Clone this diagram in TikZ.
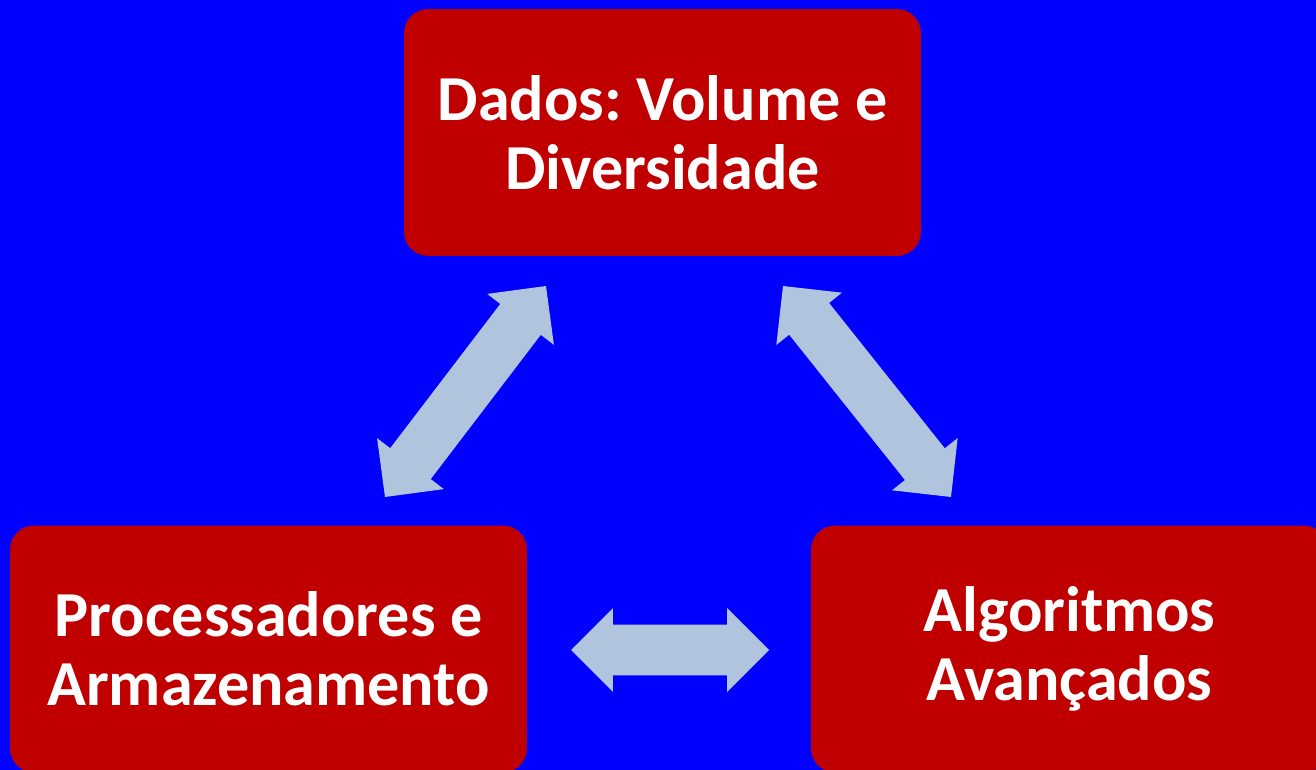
\documentclass[tikz,border=0pt]{standalone}
\usepackage{fontspec}
\setmainfont{Carlito}
\usepackage{xcolor}
\usetikzlibrary{calc}
\frenchspacing
\definecolor{slideblue}{HTML}{0000ff}
\definecolor{boxred}{HTML}{c00000}
\definecolor{steelgray}{HTML}{b0c4de}
\tikzset{
  box/.style={fill=boxred, rounded corners=0.48cm, minimum width=10.34cm,
    minimum height=4.94cm, align=center, text=white,
    font=\bfseries\fontsize{36.5}{39.3}\selectfont},
  blk/.style={fill=steelgray, to path={
    let \p1=(\tikztostart), \p2=(\tikztotarget), \n1={atan2(\y2-\y1,\x2-\x1)} in
    (\p1) -- ($(\p1)+(\n1:0.84cm)+({\n1+90}:0.84cm)$)
    -- ($(\p1)+(\n1:0.84cm)+({\n1+90}:0.51cm)$)
    -- ($(\p2)+({\n1+180}:0.84cm)+({\n1+90}:0.51cm)$)
    -- ($(\p2)+({\n1+180}:0.84cm)+({\n1+90}:0.84cm)$)
    -- (\p2)
    -- ($(\p2)+({\n1+180}:0.84cm)+({\n1-90}:0.84cm)$)
    -- ($(\p2)+({\n1+180}:0.84cm)+({\n1-90}:0.51cm)$)
    -- ($(\p1)+(\n1:0.84cm)+({\n1-90}:0.51cm)$)
    -- ($(\p1)+(\n1:0.84cm)+({\n1-90}:0.84cm)$) -- cycle}}
}

\begin{document}
\begin{tikzpicture}[x=0.02cm, y=-0.02cm]
\clip (0,0) rectangle (1316,770);
\fill[slideblue] (0,0) rectangle (1316,770);
\node[box] (dados) at (662.5,132.5) {Dados: Volume e\\Diversidade};
\node[box] (proc) at (268.5,649) {Processadores e\\Armazenamento};
\node[box] (algo) at (1069.5,649) {Algoritmos\\Avançados};
% pontas das setas
\coordinate (pd1) at (385,497);
\coordinate (pd2) at (546,286);
\coordinate (ad1) at (783,286);
\coordinate (ad2) at (951,497);
\coordinate (pa1) at (571,650);
\coordinate (pa2) at (769,650);
\fill[blk] (pd1) to (pd2);
\fill[blk] (ad1) to (ad2);
\fill[blk] (pa1) to (pa2);
\end{tikzpicture}
\end{document}
